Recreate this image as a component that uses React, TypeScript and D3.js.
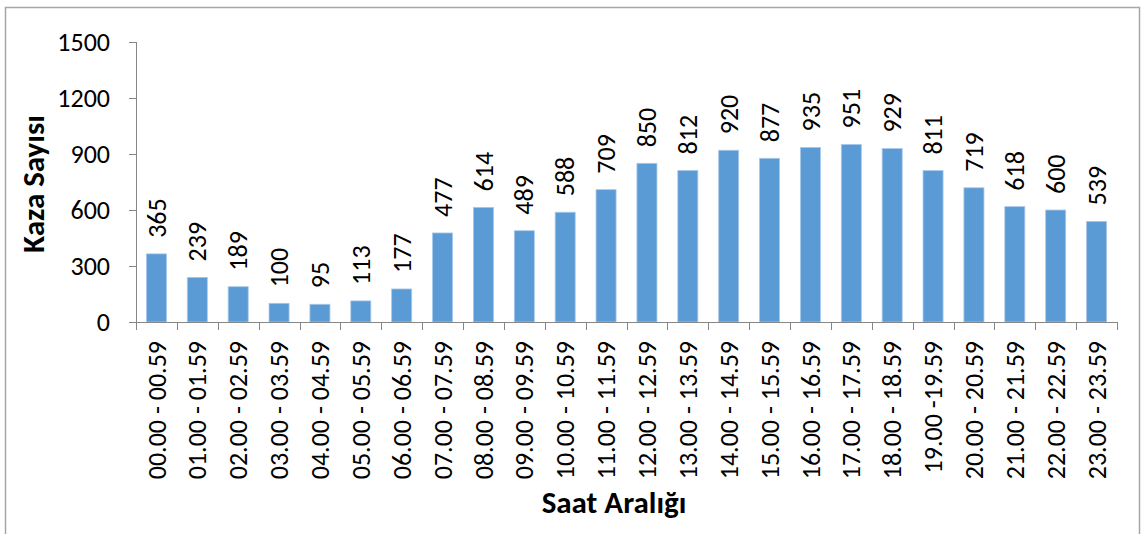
import React from 'react';
import * as d3 from 'd3';

// Saat aralıkları ve kaza sayıları
const hours = [
  '00.00 - 00.59', '01.00 - 01.59', '02.00 - 02.59', '03.00 - 03.59',
  '04.00 - 04.59', '05.00 - 05.59', '06.00 - 06.59', '07.00 - 07.59',
  '08.00 - 08.59', '09.00 - 09.59', '10.00 - 10.59', '11.00 - 11.59',
  '12.00 - 12.59', '13.00 - 13.59', '14.00 - 14.59', '15.00 - 15.59',
  '16.00 - 16.59', '17.00 - 17.59', '18.00 - 18.59', '19.00 -19.59',
  '20.00 - 20.59', '21.00 - 21.59', '22.00 - 22.59', '23.00 - 23.59',
];
const accidents = [
  365, 239, 189, 100, 95, 113, 177, 477, 614, 489, 588, 709,
  850, 812, 920, 877, 935, 951, 929, 811, 719, 618, 600, 539,
];
const yTicks = [0, 300, 600, 900, 1200, 1500];

const FONT = "Carlito, Lato, 'Open Sans', sans-serif";

const App = () => {
  const width = 1144;
  const height = 534;
  const left = 136;
  const right = 1117;
  const top = 42;
  const bottom = 322;

  const x = d3.scaleBand<string>().domain(hours).range([left, right]).paddingInner(0.51).paddingOuter(0.255);
  const xBand = d3.scaleBand<string>().domain(hours).range([left, right]);
  const y = d3.scaleLinear().domain([0, 1500]).range([bottom, top]);

  const axisColor = '#868686';

  return (
    <svg width={width} height={height} style={{ position: 'absolute', left: 0, top: 0 }} fontFamily={FONT}>
      <rect x={0} y={0} width={width} height={height} fill="#fff" />
      {/* çerçeve */}
      <path d={`M5.5,${height} V7.5 H1139.5 V${height}`} fill="none" stroke="#a6a6a6" strokeWidth={1.5} />

      {/* çubuklar */}
      {accidents.map((v, i) => (
        <rect
          key={hours[i]}
          x={x(hours[i])}
          y={y(v)}
          width={x.bandwidth()}
          height={bottom - y(v)}
          fill="#5b9bd5"
          stroke="#a9c8ea"
          strokeWidth={0.8}
        />
      ))}

      {/* y ekseni */}
      <line x1={left + 0.5} x2={left + 0.5} y1={top} y2={bottom} stroke={axisColor} />
      {yTicks.map((t) => (
        <g key={t}>
          <line x1={left - 7} x2={left} y1={Math.round(y(t)) + 0.5} y2={Math.round(y(t)) + 0.5} stroke={axisColor} />
          <text x={110} y={y(t)} dy="0.35em" textAnchor="end" fontSize={26} fill="#000">
            {t}
          </text>
        </g>
      ))}

      {/* x ekseni */}
      <line x1={left} x2={right} y1={bottom + 0.5} y2={bottom + 0.5} stroke={axisColor} />
      {hours.map((h) => (
        <line
          key={'t' + h}
          x1={Math.round(xBand(h)!) + 0.5}
          x2={Math.round(xBand(h)!) + 0.5}
          y1={bottom}
          y2={bottom + 8}
          stroke={axisColor}
        />
      ))}
      <line x1={right + 0.5} x2={right + 0.5} y1={bottom} y2={bottom + 8} stroke={axisColor} />

      {hours.map((h) => {
        const cx = xBand(h)! + xBand.bandwidth() / 2;
        return (
          <text
            key={'l' + h}
            transform={`translate(${cx},341) rotate(-90)`}
            dy="0.35em"
            textAnchor="end"
            fontSize={26}
            fill="#000"
          >
            {h}
          </text>
        );
      })}

      {/* değer etiketleri */}
      {accidents.map((v, i) => {
        const cx = xBand(hours[i])! + xBand.bandwidth() / 2;
        return (
          <text
            key={'v' + i}
            transform={`translate(${cx},${y(v) - 16}) rotate(-90)`}
            dy="0.35em"
            textAnchor="start"
            fontSize={26}
            fill="#000"
          >
            {v}
          </text>
        );
      })}

      {/* eksen başlıkları */}
      <text
        transform="translate(33,184) rotate(-90)"
        dy="0.35em"
        textAnchor="middle"
        fontSize={31}
        fontWeight="bold"
        fill="#000"
      >
        Kaza Sayısı
      </text>
      <text x={614} y={513} textAnchor="middle" fontSize={31} fontWeight="bold" fill="#000">
        Saat Aralığı
      </text>
    </svg>
  );
};

export default App;
